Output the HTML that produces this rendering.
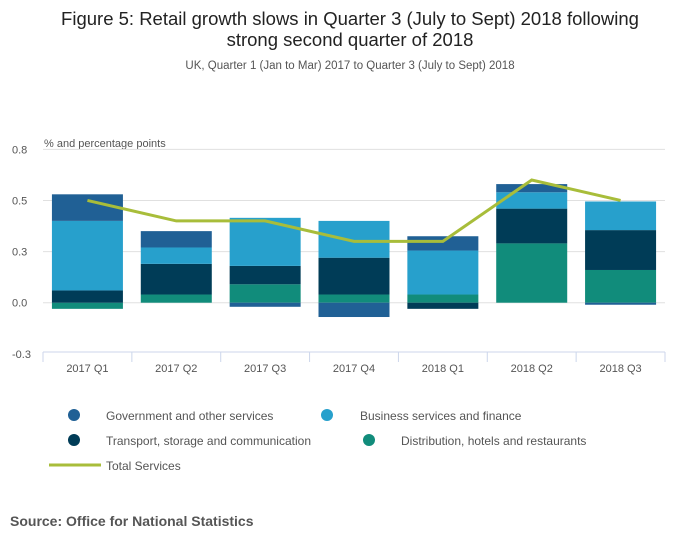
<!DOCTYPE html>
<html><head><meta charset="utf-8"><style>
body{margin:0;background:#fff;font-family:"Liberation Sans",sans-serif;}
svg text{font-family:"Liberation Sans",sans-serif;}
</style></head><body>
<svg width="700" height="549">
<text x="350" y="25" text-anchor="middle" font-size="18.5" fill="#222">Figure 5: Retail growth slows in Quarter 3 (July to Sept) 2018 following</text>
<text x="350" y="46" text-anchor="middle" font-size="18.5" fill="#222">strong second quarter of 2018</text>
<text x="350" y="69" text-anchor="middle" font-size="11.5" fill="#555">UK, Quarter 1 (Jan to Mar) 2017 to Quarter 3 (July to Sept) 2018</text>
<text x="44" y="147" font-size="11" fill="#555">% and percentage points</text>
<g id="grid"></g><g id="bars"></g><g id="line"></g><g id="xaxis"></g>
<g font-size="12" fill="#555">
<circle cx="74" cy="415" r="6" fill="#206095"/>
<text x="106" y="420">Government and other services</text>
<circle cx="327" cy="415" r="6" fill="#27a0cc"/>
<text x="360" y="420">Business services and finance</text>
<circle cx="74" cy="440" r="6" fill="#003c57"/>
<text x="106" y="445">Transport, storage and communication</text>
<circle cx="369" cy="440" r="6" fill="#118c7b"/>
<text x="401" y="445">Distribution, hotels and restaurants</text>
<line x1="49" y1="465" x2="101" y2="465" stroke="#a8bd3a" stroke-width="3"/>
<text x="106" y="470">Total Services</text>
</g>
<text x="10" y="526" font-size="14" font-weight="bold" fill="#555">Source: Office for National Statistics</text>
</svg>
<script>
const categories=["2017 Q1","2017 Q2","2017 Q3","2017 Q4","2018 Q1","2018 Q2","2018 Q3"];
const distribution=[-0.03,0.04,0.09,0.04,0.04,0.29,0.16];
const transport=[0.06,0.15,0.09,0.18,-0.03,0.17,0.195];
const business=[0.34,0.08,0.235,0.18,0.215,0.08,0.14];
const government=[0.13,0.08,-0.02,-0.07,0.07,0.04,-0.01];
const totalServices=[0.5,0.4,0.4,0.3,0.3,0.6,0.5];
const yTicks=[-0.25,0,0.25,0.5,0.75];
const yTickLabels=["-0.3","0.0","0.3","0.5","0.8"];
const NS="http://www.w3.org/2000/svg";
const L=43,R=665,Y0=302.7,PU=204.5;
const y=v=>Y0-v*PU;
const bw=(R-L)/categories.length;
const xc=i=>L+bw*(i+0.5);
const BW=71;
function mk(t,a,p){const e=document.createElementNS(NS,t);for(const k in a)e.setAttribute(k,a[k]);document.getElementById(p).appendChild(e);return e;}
yTicks.forEach((t,i)=>{
 if(t>-0.25){const g=mk('line',{x1:L,x2:R,y1:y(t),y2:y(t),stroke:'#e0e0e0','stroke-width':1},'grid');
 
 }
 const tx=mk('text',{x:12,y:y(t)+4,'font-size':11,fill:'#555'},'grid');tx.textContent=yTickLabels[i];
 
 
});
const series=[[distribution,'#118c7b','distribution'],[transport,'#003c57','transport'],[business,'#27a0cc','business'],[government,'#206095','government']];
categories.forEach((c,i)=>{
 let pos=0,neg=0;
 series.forEach(([arr,col,nm])=>{
  const v=arr[i];let a,b;
  if(v>=0){a=pos;b=pos+v;pos=b;}else{a=neg;b=neg+v;neg=b;}
  const r=mk('rect',{x:xc(i)-BW/2,width:BW,y:Math.min(y(a),y(b)),height:Math.abs(y(a)-y(b)),fill:col},'bars');
  
  
 });
 const t=mk('text',{x:xc(i),y:372,'text-anchor':'middle','font-size':11,fill:'#555'},'xaxis');t.textContent=c;
 
 
 const tk=mk('line',{x1:L+bw*i,x2:L+bw*i,y1:352,y2:362,stroke:'#ccd6eb'},'xaxis');
 
 
});
const tk=mk('line',{x1:R,x2:R,y1:352,y2:362,stroke:'#ccd6eb'},'xaxis');


const ax=mk('line',{x1:L,x2:R,y1:352,y2:352,stroke:'#ccd6eb'},'xaxis');


const pl=mk('polyline',{points:totalServices.map((v,i)=>xc(i)+','+y(v)).join(' '),fill:'none',stroke:'#a8bd3a','stroke-width':3},'line');


</script>
</body></html>
